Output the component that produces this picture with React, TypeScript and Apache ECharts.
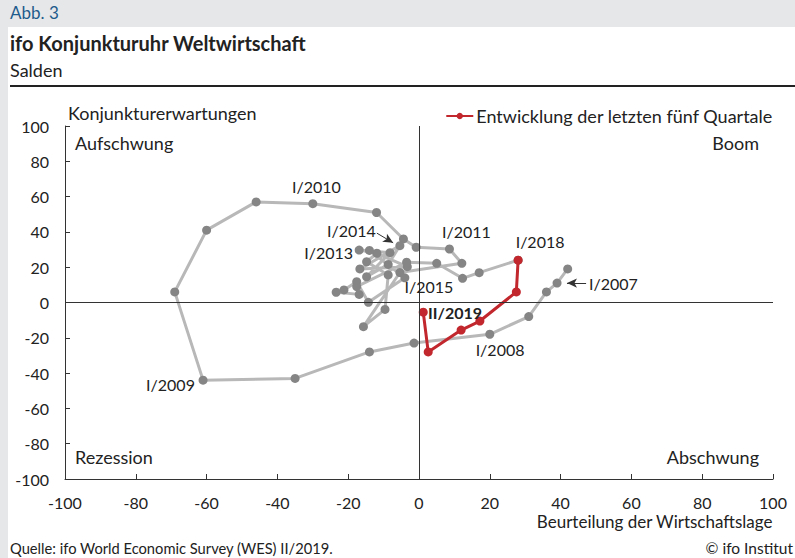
import React, { useEffect, useRef } from "react";
import * as echarts from "echarts";

// Beurteilung der Wirtschaftslage (x), Konjunkturerwartungen (y), I/2007 .. I/2018
const historyPoints: [number, number][] = [
  [42, 19], [39, 11], [36, 6], [31, -8],
  [20, -18], [-1.4, -23], [-14, -28], [-35, -43],
  [-61, -44], [-69, 6], [-60, 41], [-46, 57],
  [-30, 56], [-12, 51], [-4.4, 36], [-0.8, 31.3],
  [8.6, 30.3], [12.1, 22.2], [-5.4, 17], [-15.7, -13.7],
  [-9.6, -3.9], [-8.7, 15.6], [-14.8, 23.1], [-11.9, 27.9],
  [-16.9, 29.7], [-8.2, 28.2], [-14.8, 14.6], [-8.7, 21.6],
  [-5.4, 32.2], [-16.7, 19], [-3.3, 20.3], [-14, 29.5],
  [-4, 14], [-14.3, 0.1], [-17.6, 11.8], [-21.2, 7.1],
  [-23.4, 5.8], [-16.9, 4.6], [-17.6, 9], [-3.5, 22.8],
  [5, 22.2], [12.3, 13.7], [17, 16.9], [28, 24],
];

// letzte Quartale I/2018 .. II/2019
const recentPoints: [number, number][] = [
  [28, 24], [27.5, 6], [17.2, -10.5], [11.9, -15.6], [2.6, -28], [1.2, -5.5],
];

const recentName = "Entwicklung der letzten fünf Quartale";

const annotationTexts = ["I/2007", "I/2008", "I/2009", "I/2010", "I/2011", "I/2013", "I/2014", "I/2015", "I/2018", "II/2019"];
const annotationX = [48, 22.9, -63.3, -29, 13.4, -18.6, -19.1, 2.8, 34.2, 10.2];
const annotationY = [11, -26.9, -46.5, 66, 40, 28.6, 41, 8.8, 34.3, -5.4];
const annotationAlign = ["left", "center", "right", "center", "center", "right", "center", "center", "center", "center"];
const annotationBold = [false, false, false, false, false, false, false, false, false, true];

const arrowFrom: [number, number][] = [[47.2, 11], [-11.9, 39.3]];
const arrowTo: [number, number][] = [[41.8, 11], [-7.3, 33.8]];

const xTickMin = -100;
const xTickMax = 100;
const tickStep = 20;

const FONT = "Lato, 'Noto Sans', sans-serif";

export default function App() {
  const ref = useRef<HTMLDivElement>(null);

  useEffect(() => {
    const chart = echarts.init(ref.current!, null, { renderer: "svg" });

    const axisCommon = {
      type: "value",
      min: xTickMin,
      max: xTickMax,
      interval: tickStep,
      axisLine: { onZero: false, lineStyle: { color: "#333", width: 1 } },
      axisTick: { inside: true, length: 5, lineStyle: { color: "#333" } },
      axisLabel: { color: "#222", fontSize: 16, fontFamily: FONT },
      splitLine: { show: false },
    };

    const baseGraphic: any[] = [
      { type: "text", left: 10, top: 4, style: { text: "Abb. 3", fill: "#1d5b8c", font: `17px ${FONT}` } },
      { type: "text", left: 10, top: 33, style: { text: "ifo Konjunkturuhr Weltwirtschaft", fill: "#222", font: `bold 20px ${FONT}` } },
      { type: "text", left: 10, top: 61, style: { text: "Salden", fill: "#222", font: `18px ${FONT}` } },
      { type: "rect", shape: { x: 10, y: 85, width: 785, height: 2 }, style: { fill: "#222" } },
      { type: "text", left: 68, top: 104, style: { text: "Konjunkturerwartungen", fill: "#222", font: `18px ${FONT}` } },
      { type: "text", left: 75, top: 134, style: { text: "Aufschwung", fill: "#222", font: `18px ${FONT}` } },
      { type: "text", right: 36, top: 134, style: { text: "Boom", fill: "#222", font: `18px ${FONT}` } },
      { type: "text", left: 75, top: 448, style: { text: "Rezession", fill: "#222", font: `18px ${FONT}` } },
      { type: "text", right: 36, top: 448, style: { text: "Abschwung", fill: "#222", font: `18px ${FONT}` } },
      { type: "text", right: 22, top: 513, style: { text: "Beurteilung der Wirtschaftslage", fill: "#222", font: `17px ${FONT}` } },
      { type: "text", left: 10, top: 540, style: { text: "Quelle: ifo World Economic Survey (WES) II/2019.", fill: "#222", font: `14.7px ${FONT}` } },
      { type: "text", right: 2, top: 540, style: { text: "© ifo Institut", fill: "#222", font: `15.5px ${FONT}` } },
    ];

    const arrowData = arrowFrom.map((f, i) => [
      { coord: f, symbol: "none" },
      { coord: arrowTo[i], symbol: "arrow", symbolSize: [7, 10] },
    ]);

    chart.setOption({
      animation: false,
      textStyle: { fontFamily: FONT },
      grid: { left: 65, right: 22, top: 126, bottom: 79 },
      xAxis: { ...axisCommon, axisLabel: { ...axisCommon.axisLabel, margin: 15 } },
      yAxis: { ...axisCommon, axisLabel: { ...axisCommon.axisLabel, margin: 16 } },
      legend: {
        right: 22,
        top: 107,
        padding: 0,
        data: [recentName],
        itemWidth: 27,
        itemHeight: 8,
        itemGap: 0,
        textStyle: { fontSize: 18, color: "#222", fontFamily: FONT, padding: [0, 0, 0, -2] },
      },
      series: [
        {
          type: "line",
          name: "Verlauf",
          data: historyPoints,
          symbol: "circle",
          symbolSize: 9,
          lineStyle: { color: "#b8b8b8", width: 3 },
          itemStyle: { color: "#858585" },
          z: 3,
          markLine: {
            silent: true,
            symbol: "none",
            label: { show: false },
            lineStyle: { color: "#333", width: 1, type: "solid" },
            data: [{ xAxis: 0 }, { yAxis: 0 }, ...arrowData],
          },
        },
        {
          type: "line",
          name: recentName,
          data: recentPoints,
          symbol: "circle",
          symbolSize: 9,
          lineStyle: { color: "#c1272d", width: 3 },
          itemStyle: { color: "#c1272d" },
          z: 4,
        },
      ],
      graphic: baseGraphic,
    });

    const labels = annotationTexts.map((t, i) => {
      const [px, py] = chart.convertToPixel({ gridIndex: 0 }, [annotationX[i], annotationY[i]]) as number[];
      return {
        type: "text",
        x: px,
        y: py,
        z: 10,
        style: {
          text: t,
          fill: "#222",
          align: annotationAlign[i],
          verticalAlign: "middle",
          font: `${annotationBold[i] ? "bold " : ""}16px ${FONT}`,
        },
      };
    });

    chart.setOption({ graphic: [...baseGraphic, ...labels] });

    return () => chart.dispose();
  }, []);

  return (
    <div style={{ position: "fixed", left: 0, top: 0, width: 795, height: 558, background: "#e6e7e8" }}>
      <div style={{ position: "absolute", left: 8, top: 27, width: 787, height: 531, background: "#ffffff" }} />
      <div ref={ref} style={{ position: "absolute", left: 0, top: 0, width: 795, height: 558 }} />
    </div>
  );
}
